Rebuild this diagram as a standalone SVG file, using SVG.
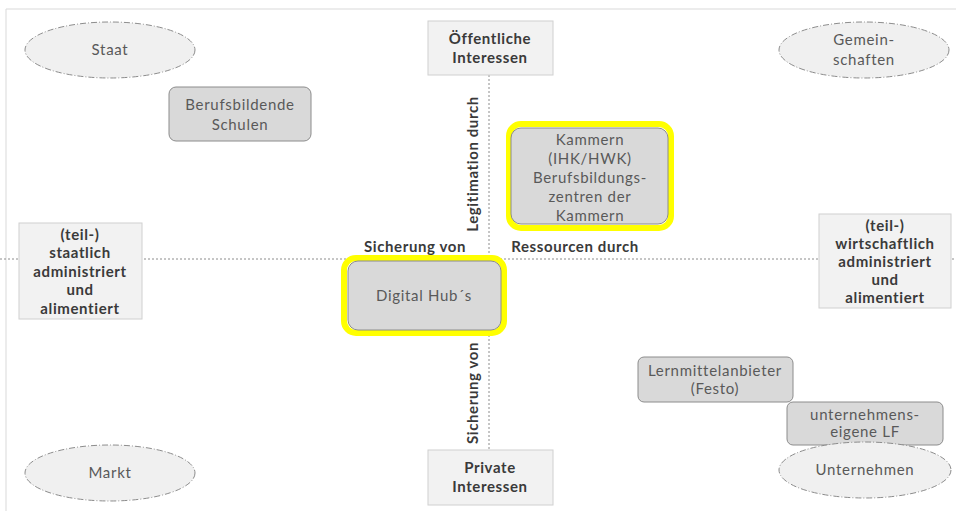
<svg xmlns="http://www.w3.org/2000/svg" width="956" height="511" viewBox="0 0 956 511">
<style>
.frame{stroke:#d9d9d9;stroke-width:1;fill:none}
.axis{stroke:#8c8c8c;stroke-width:1;stroke-dasharray:2 2;fill:none}
.ell{fill:#f0f0f0;stroke:#8c8c8c;stroke-width:1;stroke-dasharray:6 2 1 2}
.node{fill:#d9d9d9;stroke:#8c8c8c;stroke-width:1}
.hl{fill:none;stroke:#ffff00;stroke-width:6}
.pole{fill:#f2f2f2;stroke:#d0d0d0;stroke-width:1}
.t{font-family:Lato,"Open Sans",sans-serif;font-size:15px;letter-spacing:0.7px;fill:#595959;text-anchor:middle}
.b{font-family:Lato,"Open Sans",sans-serif;font-size:15px;letter-spacing:0.6px;font-weight:bold;fill:#3a3a3a;text-anchor:middle}
</style>
<rect width="956" height="511" fill="#ffffff"/>
<path class="frame" d="M6 511 V9 H956"/>
<g id="connectors">
<line class="axis" x1="0" y1="259" x2="956" y2="259"/>
<line class="axis" x1="489" y1="75" x2="489" y2="449"/>
</g>
<g id="staat"><ellipse class="ell" cx="110" cy="50" rx="85" ry="28"/><text class="t" x="110" y="55">Staat</text></g>
<g id="gemeinschaften"><ellipse class="ell" cx="864" cy="50" rx="85" ry="28"/><text class="t" x="864" y="45">Gemein-</text><text class="t" x="864" y="65">schaften</text></g>
<g id="markt"><ellipse class="ell" cx="110" cy="473" rx="85" ry="28"/><text class="t" x="110" y="478">Markt</text></g>
<g id="schulen"><rect class="node" x="169" y="87" width="142" height="54" rx="7"/><text class="t" x="240" y="110">Berufsbildende</text><text class="t" x="240" y="130">Schulen</text></g>
<g id="oeffentlich"><rect class="pole" x="428" y="21" width="125" height="54"/><text class="b" x="490" y="44">Öffentliche</text><text class="b" x="490" y="63">Interessen</text></g>
<g id="privat"><rect class="pole" x="428" y="450" width="125" height="55"/><text class="b" x="490" y="473">Private</text><text class="b" x="490" y="492">Interessen</text></g>
<g id="staatlich"><rect class="pole" x="19" y="223" width="123" height="96"/><text class="b" x="80" y="240">(teil-)</text><text class="b" x="80" y="258">staatlich</text><text class="b" x="80" y="277">administriert</text><text class="b" x="80" y="295">und</text><text class="b" x="80" y="314">alimentiert</text></g>
<g id="wirtschaftlich"><rect class="pole" x="819" y="214" width="132" height="94"/><text class="b" x="885" y="231">(teil-)</text><text class="b" x="885" y="249">wirtschaftlich</text><text class="b" x="885" y="267">administriert</text><text class="b" x="885" y="285">und</text><text class="b" x="885" y="303">alimentiert</text></g>
<g id="kammern"><rect class="hl" x="509" y="124" width="162" height="104" rx="12"/><rect class="node" x="511" y="128" width="157" height="96" rx="10"/><text class="t" x="590" y="145">Kammern</text><text class="t" x="590" y="164">(IHK/HWK)</text><text class="t" x="590" y="183">Berufsbildungs-</text><text class="t" x="590" y="202">zentren der</text><text class="t" x="590" y="221">Kammern</text></g>
<g id="digitalhub"><rect class="hl" x="344" y="258" width="160" height="75" rx="12"/><rect class="node" x="348" y="261" width="153" height="69" rx="10"/><text class="t" x="424" y="301">Digital Hub´s</text></g>
<g id="lernmittel"><rect class="node" x="638" y="357" width="155" height="45" rx="6"/><text class="t" x="715" y="376">Lernmittelanbieter</text><text class="t" x="715" y="394">(Festo)</text></g>
<g id="lf"><rect class="node" x="787" y="402" width="156" height="43" rx="6"/><text class="t" x="865" y="420">unternehmens-</text><text class="t" x="865" y="437">eigene LF</text></g>
<g id="unternehmen"><ellipse class="ell" cx="865" cy="470" rx="86" ry="28"/><text class="t" x="865" y="475">Unternehmen</text></g>
<g id="labels">
<text class="b" x="415" y="252">Sicherung von</text>
<text class="b" x="575" y="252">Ressourcen durch</text>
<text class="b" transform="translate(478 164) rotate(-90)">Legitimation durch</text>
<text class="b" transform="translate(478 393) rotate(-90)">Sicherung von</text>
</g>
</svg>
